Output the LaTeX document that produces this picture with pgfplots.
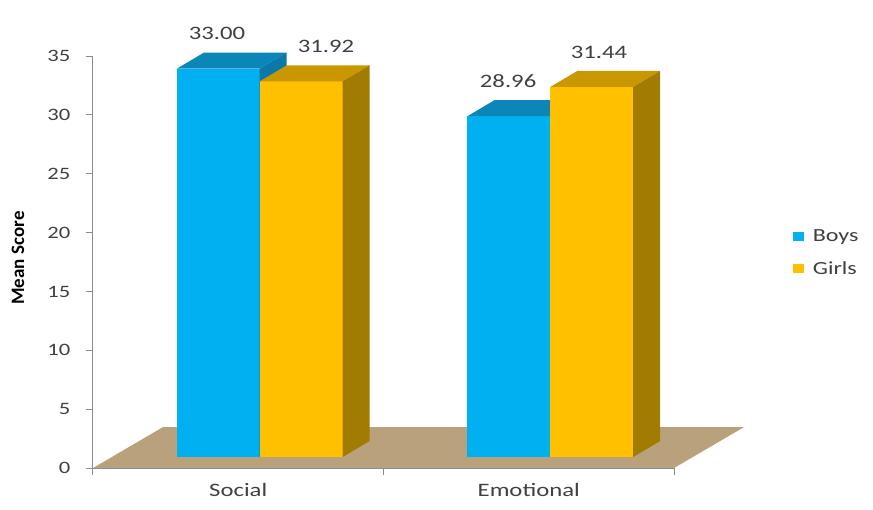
\documentclass[border=0pt]{standalone}
\usepackage{fontspec}
\setmainfont{Carlito}[FakeStretch=1.3]
\newfontfamily\ylabfont{Carlito}
\usepackage{pgfplots}
\pgfplotsset{compat=1.18}
\definecolor{boys}{HTML}{00B0F0}
\definecolor{boystop}{HTML}{0B86B8}
\definecolor{boysside}{HTML}{0A78A8}
\definecolor{girls}{HTML}{FFC000}
\definecolor{girlstop}{HTML}{C99700}
\definecolor{girlsside}{HTML}{A27C00}
\definecolor{floorc}{HTML}{B9A27B}
\definecolor{txt}{HTML}{404040}
\definecolor{axc}{HTML}{8C8C8C}
% 3D bar: #1 left x of front face, #2 value, #3 front, #4 top, #5 side colour
\newcommand\threedbar[5]{%
  \pgfmathsetmacro\xa{#1}%
  \pgfmathsetmacro\xb{#1+0.285}%
  \pgfmathsetmacro\xc{#1+0.093}%
  \pgfmathsetmacro\xd{#1+0.285+0.093}%
  \pgfmathsetmacro\yb{0.93}%
  \pgfmathsetmacro\yt{#2+0.93}%
  \pgfmathsetmacro\ybb{0.93+1.36}%
  \pgfmathsetmacro\ytt{#2+0.93+1.36}%
  \edef\tmp{%
    \noexpand\addplot[fill=#3,draw=none,forget plot] coordinates {(\xa,\yb) (\xb,\yb) (\xb,\yt) (\xa,\yt)} -- cycle;
    \noexpand\addplot[fill=#4,draw=none,forget plot] coordinates {(\xa,\yt) (\xb,\yt) (\xd,\ytt) (\xc,\ytt)} -- cycle;
    \noexpand\addplot[fill=#5,draw=none,forget plot] coordinates {(\xb,\yb) (\xd,\ybb) (\xd,\ytt) (\xb,\yt)} -- cycle;
  }\tmp
}
\begin{document}
\begin{tikzpicture}
\begin{axis}[
  scale only axis, width=581pt, height=412pt,
  xmin=0, xmax=2, ymin=0, ymax=35,
  clip=false,
  axis x line*=bottom, axis y line*=left,
  axis line style={draw=axc, line width=1pt, -},
  tick style={draw=axc, line width=1pt},
  tick align=outside, major tick length=7pt,
  xtick={0,1,2}, xticklabels={},
  extra x ticks={0.5,1.5},
  extra x tick labels={Social,Emotional},
  extra x tick style={major tick length=0pt, xticklabel style={yshift=-12pt}},
  ytick={0,5,...,35},
  /pgf/number format/assume math mode=true,
  ticklabel style={font=\fontsize{17.4}{20}\selectfont, text=txt},
  xticklabel style={font=\fontsize{19}{22}\selectfont, text=txt},
  yticklabel style={xshift=-12pt},
  legend style={at={(axis cs:2.398,18.27)}, anchor=west, draw=none, fill=none,
    font=\fontsize{18.5}{22}\selectfont, text=txt, row sep=14pt,
    /tikz/every even column/.append style={column sep=2pt}},
  legend cell align=left,
]
% floor
\addplot[fill=floorc, draw=none, forget plot] coordinates {(0,0) (2,0) (2.241,3.48) (0.241,3.48)} -- cycle;
% bars (values)
\threedbar{0.289}{33.00}{boys}{boystop}{boysside}
\threedbar{0.574}{31.92}{girls}{girlstop}{girlsside}
\threedbar{1.289}{28.96}{boys}{boystop}{boysside}
\threedbar{1.574}{31.44}{girls}{girlstop}{girlsside}
% value labels
\addplot[draw=none, mark=none, forget plot, nodes near coords, point meta=explicit symbolic,
  every node near coord/.append style={anchor=center, yshift=46pt, font=\fontsize{19}{22}\selectfont, text=txt}]
  coordinates {(0.427,33.00)[33.00] (0.802,31.92)[31.92] (1.429,28.96)[28.96] (1.742,31.44)[31.44]};
\addlegendimage{legend image code/.code={\fill[boys,draw=none] (0pt,-4.5pt) rectangle (11pt,4.5pt); \path[draw=none,fill=none] (0pt,0pt) rectangle (18pt,0pt);}}
\addlegendentry{Boys}
\addlegendimage{legend image code/.code={\fill[girls,draw=none] (0pt,-4.5pt) rectangle (11pt,4.5pt); \path[draw=none,fill=none] (0pt,0pt) rectangle (18pt,0pt);}}
\addlegendentry{Girls}
\node[rotate=90, anchor=center, inner sep=0pt, font=\ylabfont\bfseries\fontsize{19}{22}\selectfont, text=black]
  at (axis cs:-0.258,17.84) {Mean Score};
\coordinate (BL) at (axis cs:-0.320,-3.48);
\coordinate (TR) at (axis cs:2.685,39.76);
\end{axis}
\pgfresetboundingbox
\useasboundingbox (BL) rectangle (TR);
\end{tikzpicture}
\end{document}
